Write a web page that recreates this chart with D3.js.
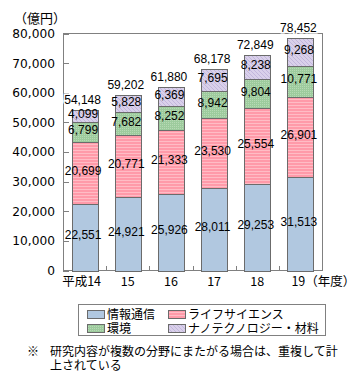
<!DOCTYPE html>
<html><head><meta charset="utf-8">
<script src="https://cdn.jsdelivr.net/npm/d3@7"></script>
<style>
body{margin:0;background:#fff;}
svg{display:block;}
</style></head>
<body>
<script>
const years = ["平成14","15","16","17","18","19"];
const info = [22551,24921,25926,28011,29253,31513];
const life = [20699,20771,21333,23530,25554,26901];
const env = [6799,7682,8252,8942,9804,10771];
const nano = [4099,5828,6369,7695,8238,9268];
const totals = [54148,59202,61880,68178,72849,78452];
const seriesNames = ["情報通信","ライフサイエンス","環境","ナノテクノロジー・材料"];
const yTicks = [0,10000,20000,30000,40000,50000,60000,70000,80000];
const unitLabel = "（億円）";
const yearSuffix = "（年度）";
const note1 = "研究内容が複数の分野にまたがる場合は、重複して計";
const note2 = "上されている";

const W = 355, H = 382;
const L = 63, R = 322, T = 33.5, B = 270.5;
const svg = d3.select("body").append("svg").attr("width", W).attr("height", H);
const defs = svg.append("defs");

// patterns
const pInfo = defs.append("pattern").attr("id","pInfo").attr("patternUnits","userSpaceOnUse").attr("width",4).attr("height",4);
pInfo.append("rect").attr("width",4).attr("height",4).attr("fill","#b1c8e0");

const pLife = defs.append("pattern").attr("id","pLife").attr("patternUnits","userSpaceOnUse").attr("width",4).attr("height",3);
pLife.append("rect").attr("width",4).attr("height",3).attr("fill","#ff9aa9");
pLife.append("rect").attr("y",0).attr("width",4).attr("height",1).attr("fill","#ffbcc5");

const pEnv = defs.append("pattern").attr("id","pEnv").attr("patternUnits","userSpaceOnUse").attr("width",2).attr("height",2);
pEnv.append("rect").attr("width",2).attr("height",2).attr("fill","#9dcb9d");
pEnv.append("rect").attr("width",1).attr("height",1).attr("fill","#b7d9b5");

const pNano = defs.append("pattern").attr("id","pNano").attr("patternUnits","userSpaceOnUse").attr("width",4).attr("height",4);
pNano.append("rect").attr("width",4).attr("height",4).attr("fill","#d9d0ea");
pNano.append("path").attr("d","M0,0 L4,4 M-1,3 L1,5 M3,-1 L5,1").attr("stroke","#c2b6dc").attr("stroke-width",1);

const fills = ["url(#pInfo)","url(#pLife)","url(#pEnv)","url(#pNano)"];

const x = d3.scaleBand().domain(years).range([L, R]).paddingInner(0.4).paddingOuter(0.2);
const y = d3.scaleLinear().domain([0, 80000]).range([B, T]);

// frame
svg.append("rect").attr("x", L).attr("y", T).attr("width", R - L).attr("height", B - T)
  .attr("fill","none").attr("stroke","#808080").attr("stroke-width",1).attr("shape-rendering","crispEdges");

// y axis
const yAxis = d3.axisLeft(y).tickValues(yTicks).tickSizeInner(-6).tickSizeOuter(0).tickPadding(14)
  .tickFormat(d3.format(","));
const gy = svg.append("g").attr("transform", `translate(${L},0)`).call(yAxis);
gy.select(".domain").attr("stroke","#808080");
gy.selectAll(".tick line").attr("stroke","#808080").attr("shape-rendering","crispEdges");
gy.selectAll(".tick text").attr("font-family","DejaVu Sans, sans-serif").attr("font-size",12.2).attr("fill","#000")
  .attr("x",-8);

// bottom ticks at band boundaries
const step = x.step();
const boundaries = years.slice(1).map(yr => x(yr) - step * x.paddingInner() / 2);
svg.append("g").selectAll("line").data(boundaries).join("line")
  .attr("x1", d => Math.round(d) + 0.5).attr("x2", d => Math.round(d) + 0.5)
  .attr("y1", B).attr("y2", B - 5).attr("stroke","#808080").attr("shape-rendering","crispEdges");

// stacked bars
const rows = years.map((yr, i) => ({year: yr, s0: info[i], s1: life[i], s2: env[i], s3: nano[i]}));
const stack = d3.stack().keys(["s0","s1","s2","s3"])(rows);

const gBars = svg.append("g");
stack.forEach((layer, k) => {
  gBars.append("g").selectAll("rect").data(layer).join("rect")
    .attr("x", d => Math.round(x(d.data.year)) + 0.5)
    .attr("y", d => Math.round(y(d[1])) + 0.5)
    .attr("width", Math.round(x.bandwidth()))
    .attr("height", d => Math.round(y(d[0])) - Math.round(y(d[1])))
    .attr("fill", fills[k]).attr("stroke","#6b6b6b").attr("stroke-width",1)
    .attr("shape-rendering","crispEdges");
});

// segment labels
const gLab = svg.append("g").attr("font-family","Liberation Sans, Arial, sans-serif").attr("font-size",12).attr("fill","#000").attr("text-anchor","middle");
stack.forEach((layer, k) => {
  gLab.append("g").selectAll("text").data(layer).join("text")
    .attr("x", d => x(d.data.year) + x.bandwidth() / 2 - 1.5)
    .attr("y", d => (y(d[0]) + y(d[1])) / 2 + 2)
    .text(d => d3.format(",")(d[1] - d[0]));
});

// totals
gLab.append("g").selectAll("text").data(years).join("text")
  .attr("x", d => x(d) + x.bandwidth() / 2 - 2)
  .attr("y", (d, i) => y(totals[i]) - 6)
  .attr("stroke","#fff").attr("stroke-width",3).attr("paint-order","stroke")
  .text((d, i) => d3.format(",")(totals[i]));

// x labels
const cjk = "'Noto Sans CJK JP', sans-serif";
const gx = svg.append("g").attr("font-family", cjk).attr("font-size",12.5).attr("fill","#000");
gx.selectAll("text").data(years).join("text")
  .attr("x", (d, i) => {
    const c = x(d) + x.bandwidth() / 2;
    if (i === 0) return c - 3;
    if (i === years.length - 1) return c - 9;
    return c;
  })
  .attr("y", 286)
  .attr("text-anchor", (d, i) => i === years.length - 1 ? "start" : "middle")
  .text((d, i) => i === years.length - 1 ? d + yearSuffix : d);

// unit label
svg.append("text").attr("x", 14).attr("y", 23).attr("font-family", cjk).attr("font-size",13).text(unitLabel);

// legend
const lg = svg.append("g");
lg.append("rect").attr("x",78.5).attr("y",304.5).attr("width",247).attr("height",31)
  .attr("fill","#fff").attr("stroke","#808080").attr("shape-rendering","crispEdges");
const legPos = [[87,310],[168,310],[87,324],[168,324]];
seriesNames.forEach((name, k) => {
  const [lx, ly] = legPos[k];
  lg.append("rect").attr("x", lx + 0.5).attr("y", ly + 0.5).attr("width",17).attr("height",8)
    .attr("fill", fills[k]).attr("stroke","#6b6b6b").attr("shape-rendering","crispEdges");
});
// legend texts: one text element per column, rows as tspans
[[0,2],[1,3]].forEach(col => {
  const t = lg.append("text").attr("font-family", cjk).attr("font-size",12).attr("fill","#000");
  col.forEach((k, r) => {
    const [lx, ly] = legPos[k];
    t.append("tspan").attr("x", lx + 20).attr("y", ly + 9).text(seriesNames[k]);
  });
});

// footnote
const fn = svg.append("g").attr("font-family", cjk).attr("font-size",12).attr("fill","#000");
fn.append("text").attr("x", 27).attr("y", 356).text("※");
const ft = fn.append("text");
ft.append("tspan").attr("x", 50).attr("y", 356).text(note1);
ft.append("tspan").attr("x", 50).attr("y", 370).text(note2);
</script>
</body></html>
